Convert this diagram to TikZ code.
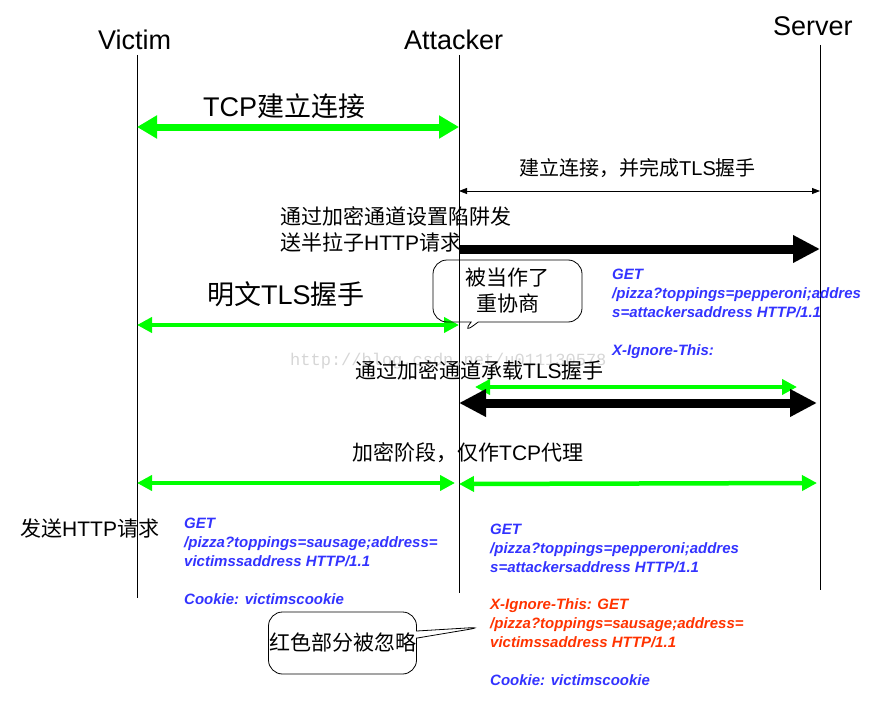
\documentclass[tikz,border=0pt]{standalone}
\usepackage{fontspec}
\setmainfont{Liberation Sans}
\newfontfamily\cjk{Noto Sans CJK SC}
\newfontfamily\wmark{Liberation Mono}
\usetikzlibrary{arrows.meta, shapes.callouts}
\definecolor{linkgreen}{RGB}{0,255,0}
\definecolor{reqblue}{RGB}{51,51,255}
\definecolor{reqred}{RGB}{255,51,0}
\newcommand{\zh}[1]{{\cjk #1}}

\begin{document}
\begin{tikzpicture}[
    x=1pt, y=-1pt,
    party/.style = {anchor=base west, inner sep=0pt, font=\fontsize{27}{32}\selectfont},
    big/.style = {anchor=base west, inner sep=0pt, font=\fontsize{27}{32}\selectfont},
    note/.style = {anchor=base west, inner sep=0pt, align=left, font=\fontsize{21}{26}\selectfont},
    req/.style = {anchor=base west, inner sep=0pt, align=left, text=reqblue, font=\fontsize{15}{18.8}\selectfont\bfseries\itshape},
    bubble/.style = {rectangle callout, draw=black, thick, rounded corners=14pt, inner sep=0pt, align=center, minimum width=149pt, minimum height=62pt, font=\cjk\fontsize{21}{26}\selectfont},
    life/.style = {draw=black, line width=1pt},
    fatgreen/.style = {draw=linkgreen, line width=7pt, {Triangle[length=20pt,width=22pt]}-{Triangle[length=20pt,width=22pt]}},
    green/.style = {draw=linkgreen, line width=4.5pt, {Triangle[length=15pt,width=15pt]}-{Triangle[length=15pt,width=15pt]}},
    thin/.style = {draw=black, line width=0.8pt, {Triangle[length=8pt,width=6pt]}-{Triangle[length=8pt,width=6pt]}},
    fatblack/.style = {draw=black, line width=9pt, -{Triangle[length=27pt,width=26pt]}},
    fatblack2/.style = {draw=black, line width=9pt, {Triangle[length=27pt,width=26pt]}-{Triangle[length=27pt,width=26pt]}},
]
\useasboundingbox (0,0) rectangle (879,701);

% Parties and lifelines
\node [party] (victim) at (98,50) {Victim};
\node [party] (attacker) at (404,50) {Attacker};
\node [party] (server) at (773,36) {Server};

\coordinate (vtop) at (137,55);  \coordinate (vbot) at (137,598);
\coordinate (atop) at (459,55);  \coordinate (abot) at (459,593);
\coordinate (stop) at (820,45);  \coordinate (sbot) at (820,590);
\path [life] (vtop) -- (vbot);
\path [life] (atop) -- (abot);
\path [life] (stop) -- (sbot);

% Phase 1: attacker talks to server
\node [big] (tcp) at (203,117) {TCP\zh{建立连接}};
\coordinate (tcpL) at (137,127); \coordinate (tcpR) at (459,127);
\path [fatgreen] (tcpL) -- (tcpR);

\node [note, font=\fontsize{20}{26}\selectfont] (tlsup) at (519,175) {\zh{建立连接，并完成}TLS\zh{握手}};
\coordinate (tlsL) at (459,191); \coordinate (tlsR) at (820,191);
\path [thin] (tlsL) -- (tlsR);

% base anchor of a multi-line node sits on its last line
\node [note] (trap) at (280,250) {\zh{通过加密通道设置陷阱发}\\\zh{送半拉子}HTTP\zh{请求}};
\coordinate (trapL) at (459,249); \coordinate (trapR) at (820,249);
\path [fatblack] (trapL) -- (trapR);

\node [req] (halfreq) at (612,355) {GET\\/pizza?toppings=pepperoni;addres\\s=attackersaddress HTTP/1.1\\[18.8pt]X-Ignore-This:};

% Phase 2: victim handshake
\node [big] (plain) at (207,304) {\zh{明文}TLS\zh{握手}};
\coordinate (plainL) at (137,325); \coordinate (plainR) at (459,325);
\path [green] (plainL) -- (plainR);

\coordinate (renegtip) at (462,334);
\node [bubble, callout absolute pointer=(renegtip)] (reneg) at (507.5,291) {被当作了\\重协商};

\node [anchor=base west, inner sep=0pt, text=black!16, font=\wmark\fontsize{17}{20}\selectfont] (mark) at (290,365) {http://blog.csdn.net/u011130578};

\node [note] (carry) at (355,378) {\zh{通过加密通道承载}TLS\zh{握手}};
\coordinate (innerL) at (475,387); \coordinate (innerR) at (797,387);
\path [green, line width=4pt] (innerL) -- (innerR);
\coordinate (outerL) at (459,403); \coordinate (outerR) at (817,403);
\path [fatblack2] (outerL) -- (outerR);

% Phase 3: proxy
\node [note] (proxy) at (352,460) {\zh{加密阶段，仅作}TCP\zh{代理}};
\coordinate (pxVL) at (137,483); \coordinate (pxVR) at (455,483);
\path [green] (pxVL) -- (pxVR);
\coordinate (pxSL) at (459,484); \coordinate (pxSR) at (817,483);
\path [green] (pxSL) -- (pxSR);

\node [note] (send) at (20,536) {\zh{发送}HTTP\zh{请求}};
\node [req] (victimreq) at (184,604) {GET\\/pizza?toppings=sausage;address=\\victimssaddress HTTP/1.1\\[18.8pt]Cookie: victimscookie};
\node [req] (merged) at (490,685) {GET\\/pizza?toppings=pepperoni;addres\\s=attackersaddress HTTP/1.1\\[18.8pt]%
  \textcolor{reqred}{X-Ignore-This: GET}\\\textcolor{reqred}{/pizza?toppings=sausage;address=}\\\textcolor{reqred}{victimssaddress HTTP/1.1}\\[18.8pt]Cookie: victimscookie};

\coordinate (ignoretip) at (483,627);
\node [bubble, minimum width=148pt, callout absolute pointer=(ignoretip)] (ignore) at (342.5,643) {红色部分被忽略};

\end{tikzpicture}
\end{document}
